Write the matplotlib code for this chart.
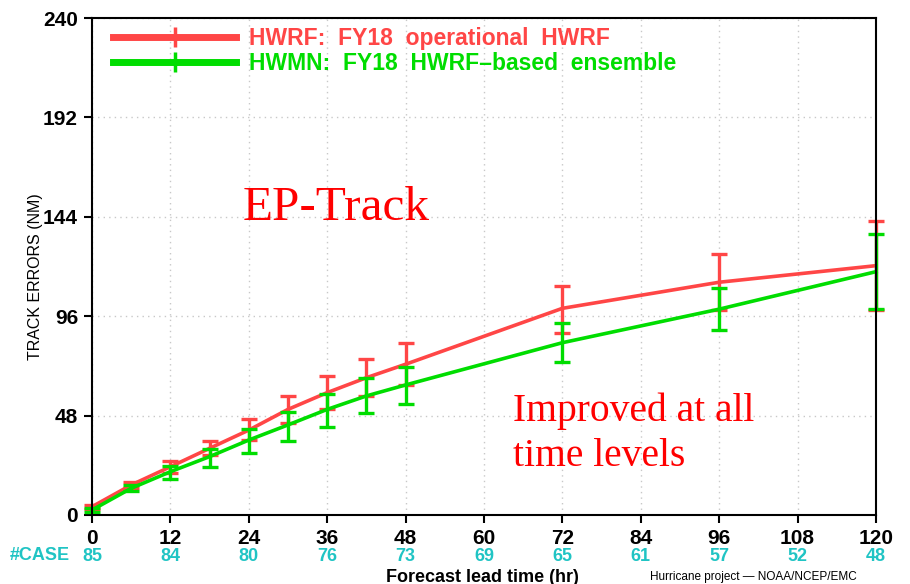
#!/usr/bin/python3

import numpy as np
import matplotlib
matplotlib.use('Agg')
import matplotlib.pyplot as plt
import matplotlib.transforms as mtransforms
from matplotlib.lines import Line2D

# forecast lead times (hr) and mean track errors (NM)
lead_hr = [0, 6, 12, 18, 24, 30, 36, 42, 48, 72, 96, 120]
hwrf_err = [4.0, 14.5, 23.3, 32.2, 41.0, 51.0, 59.1, 66.3, 72.8, 99.8, 112.4, 120.4]
hwrf_lo = [3.0, 13.0, 20.4, 29.0, 36.2, 44.4, 51.2, 57.5, 62.7, 88.1, 99.0, 99.0]
hwrf_hi = [5.0, 16.0, 26.2, 35.9, 46.2, 57.6, 67.1, 75.4, 82.9, 110.6, 125.9, 142.2]
hwmn_err = [2.4, 12.9, 20.9, 28.2, 36.2, 43.5, 51.0, 57.5, 62.8, 83.2, 99.4, 117.5]
hwmn_lo = [1.5, 11.5, 17.2, 23.0, 29.8, 35.9, 42.7, 49.1, 53.6, 73.8, 89.4, 99.3]
hwmn_hi = [3.5, 14.5, 23.7, 31.7, 41.5, 49.6, 58.4, 66.0, 71.6, 92.9, 109.5, 135.7]

# number of verifying cases at each 12-hr tick
case_hr = [0, 12, 24, 36, 48, 60, 72, 84, 96, 108, 120]
case_num = [85, 84, 80, 76, 73, 69, 65, 61, 57, 52, 48]

red = '#ff4646'
green = '#00dd00'
cyan = '#20c4c4'

plt.rcParams['font.family'] = ['Liberation Sans', 'DejaVu Sans']

fig = plt.figure(figsize=(9.10, 5.84), dpi=100)
ax = fig.add_axes([92/910, 69/584, 784/910, 497/584])

def draw_model(x, y, lo, hi, color, z):
    y = np.array(y)
    yerr = np.vstack([y - np.array(lo), np.array(hi) - y])
    ax.errorbar(x, y, yerr=yerr, color=color, lw=2.6, elinewidth=2.4,
                capsize=6, capthick=2.4, zorder=z, clip_on=False)

draw_model(lead_hr, hwrf_err, hwrf_lo, hwrf_hi, red, 3)
draw_model(lead_hr, hwmn_err, hwmn_lo, hwmn_hi, green, 4)

ax.set_xlim(0, 120)
ax.set_ylim(0, 240)
ax.set_xticks(np.arange(0, 121, 12))
ax.set_yticks(np.arange(0, 241, 48))
ax.tick_params(direction='out', length=6, width=1.5, labelsize=15, pad=4)
for lab in ax.get_xticklabels() + ax.get_yticklabels():
    lab.set_fontweight('bold')
for sp in ax.spines.values():
    sp.set_linewidth(1.5)
    sp.set_zorder(5)
ax.grid(True, color='#c8c8c8', linestyle=(0, (1, 3)), linewidth=1.0)
ax.set_axisbelow(True)

ax.set_ylabel('TRACK ERRORS (NM)', fontsize=11.5)
ax.yaxis.set_label_coords(-0.063, 0.48)

# legend with a tick mark across the middle of each line
handles = [Line2D([0], [0], color=red, lw=5, marker='|', markersize=14, mew=2.5),
           Line2D([0], [0], color=green, lw=5, marker='|', markersize=14, mew=2.5)]
leg = ax.legend(handles, ['HWRF:  FY18  operational  HWRF', 'HWMN:  FY18  HWRF\u2013based  ensemble'],
                loc='upper left', bbox_to_anchor=(0.0, 1.024), frameon=False,
                handlelength=5.4, handletextpad=0.55, labelspacing=0.1,
                prop={'size': 16.5, 'weight': 'bold'}, numpoints=1)
for txt, c in zip(leg.get_texts(), [red, green]):
    txt.set_color(c)

# case counts under the x axis
trans = mtransforms.blended_transform_factory(ax.transData, ax.transAxes)
for h, n in zip(case_hr, case_num):
    ax.text(h, -0.083, str(n), transform=trans, ha='center', va='center',
            color=cyan, fontsize=13, fontweight='bold')
fig.text(10/910, 1 - 556/584, '#CASE', color=cyan, fontsize=13,
         fontweight='bold', ha='left', va='center')

fig.text(482/910, 1 - 577/584, 'Forecast lead time (hr)', fontsize=13,
         fontweight='bold', ha='center', va='center')
fig.text(650/910, 1 - 577/584, 'Hurricane project \u2014 NOAA/NCEP/EMC', fontsize=8.5,
         ha='left', va='center')

# annotations
fig.text(243/910, 1 - 208/584, 'EP-Track', color='red', fontsize=35.5,
         family='Liberation Serif', ha='left', va='center')
fig.text(513/910, 1 - 434/584, 'Improved at all\ntime levels', color='red',
         fontsize=28.5, family='Liberation Serif', ha='left', va='center',
         linespacing=1.3)

plt.savefig('out.png', dpi=100)
